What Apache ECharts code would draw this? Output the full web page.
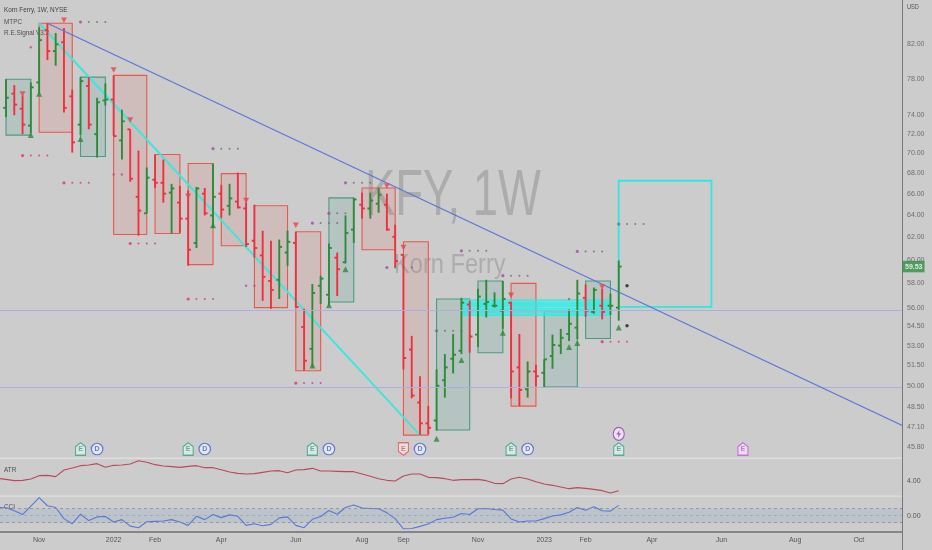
<!DOCTYPE html>
<html><head><meta charset="utf-8">
<style>html,body{margin:0;padding:0;background:#cccccc}#c{width:932px;height:550px}</style>
<script src="https://cdn.jsdelivr.net/npm/echarts@6/dist/echarts.min.js"></script>
</head><body><div id="c"></div>
<script>
// weekly bars: [open, high, low, close]
const bars = [
[74.9,78.05,73.9,76.0],[76.45,77.4,74.1,75.25],[74.8,76.25,72.1,73.1],[73.0,77.7,72.2,77.15],[77.7,84.15,76.45,82.6],
[83.8,84.65,80.25,81.3],[81.3,83.45,79.6,82.1],[82.35,84.05,74.4,74.9],[76.15,76.9,70.2,71.25],[73.1,78.3,72,77.85],
[77.3,78.3,72.6,73.1],[72.1,76,69.7,75.5],[75.7,77.6,75.15,75.8],[75.8,78.5,71.9,71.9],[71.45,74.7,69.5,73.45],
[72.6,72.6,67.3,67.6],[65.85,70.4,62.25,64.55],[64.3,68.7,64.3,67.7],[67.5,70,66.7,67.2],[67.2,69.5,65.3,66.15],
[66.25,67.1,62.45,66.65],[65.3,66.9,62.5,63.8],[63.8,66.45,59.6,61],[61.6,66.8,61.15,66.65],[66.15,66.7,64.1,64.3],
[64.1,69.1,62.95,65.85],[66.15,67,63.9,64.65],[65,67.1,64.1,65.7],[65.4,68.2,64.75,64.85],[64.75,65.3,61.25,61.5],
[61.8,65.1,60.3,61.15],[60.5,62.7,56.65,58.65],[58.3,61.8,56,57.55],[58.4,61.9,56.8,61.25],[60.75,62.7,59.6,61.7],
[61.6,62.6,56.1,56.15],[54.55,56,51.2,51.95],[52.85,58.05,51.45,57.3],[57.9,58.75,56.4,58.5],[57.15,61.55,56.25,61.15],
[60.3,60.75,57.05,59.3],[59.9,64.1,59.8,62.5],[62.8,65.75,61.6,65.6],[65.1,66.25,63.8,64.75],[64.75,66.25,63.8,65.5],
[65.2,66.7,64.35,66.05],[65.1,66.15,62.7,62.8],[62.15,63.25,59.45,60],[60.55,60.55,51.3,52.15],[52.8,53.85,49.2,49.4],
[48.9,50.8,46.65,47.45],[47.45,48.65,46.7,47.15],[47.65,51.3,46.95,50.1],[50.5,52.45,49.25,51.45],[52.1,54,51,52.4],
[52.7,56.9,52.45,56.5],[56.35,56.65,52.55,53.8],[53.95,57.65,53,57],[56.4,58.4,55.3,56.55],[56.25,57.35,56.1,56.25],
[55.85,58.3,54.4,56.8],[56.5,56.55,49.2,51.15],[51.45,54,48.65,49.8],[49.85,51.9,49.25,51.15],[51.15,51.65,50.05,50.8],
[51.05,52.05,50,52.05],[52.3,53.95,51.35,53.15],[53.1,54.4,52.45,53.7],[54,55.95,53.45,54.8],[54.5,58.4,53.6,57.25],
[56.9,58,55.35,55.85],[55.75,57.75,55.6,57.55],[56.25,57.65,55.15,55.75],[56.25,57.25,55.5,56.25],[56.1,60.05,55.05,59.53]
];
// boxes: [fromIndex, toIndex, topPrice, bottomPrice]
const redBoxes = [[4,8,84.65,72.3],[13,17,78.5,62.35],[18,21,70,62.45],[22,25,69.1,59.7],[26,29,68.1,61.35],[30,34,65,56.1],[35,38,62.6,51.2],[43,47,66.7,61],[48,51,61.7,46.65],[61,64,58.1,48.65]];
const greenBoxes = [[0,3,78.05,72],[9,12,78.3,69.8],[39,42,65.75,56.55],[52,56,56.8,47],[57,60,58.3,52.55],[65,69,55.85,50],[70,73,58.3,53.65]];
const targetBox = [74,85.2,67.4,56.15];
const bandRows = [56.7,56.5,56.35,56.2,56.0,55.85,55.7,55.5];
const bandSpan = [55,73];
const blueTrend = [[5,84.65],[108.25,47.3]];
const cyanTrend = [[4,84.65],[50,46.65]];
const hLines = [55.85,50];
const lastPrice = 59.53;
const downMarks = [[2,76.4],[7,85],[13,79.1],[15,73.6],[22,65.9],[29,65.5],[35,63.2],[46,66.9],[48,61.2],[61,57.1],[72,57.8]];
const upMarks = [[3,72],[4,76.45],[9,71.6],[25,63.2],[37,51.6],[39,56.3],[41,59.3],[52,46.4],[55,52],[60,54.1],[68,53],[69,53.3],[74,54.5]];
const pinkRows = [[2,69.9],[15,61.55],[7,67.2],[22,56.8],[35,50.3],[72,53.4]];
const purpleRows = [[9,84.8],[25,70.6],[41,67.2],[37,63.4],[39,64.3],[46,59.45],[55,60.9],[60,58.75],[69,60.85]];
const greyRows = [[52,54.25],[74,63.3]];
const partialDots = [[13,68],[14,68],[29,57.9],[30,57.9],[68,56.8],[3,81.75]];
const blackDots = [[75,57.9],[75,54.65]];
const earnings = [[9,'g'],[22,'g'],[37,'g'],[48,'r'],[61,'g'],[74,'g'],[89,'p']];
const dividends = [11,24,39,50,63];
const splits = [74];
const atr = [4.14,4.08,4.0,4.02,4.10,4.30,4.32,4.24,4.64,4.76,4.90,4.94,5.02,4.80,4.92,4.94,5.0,5.2,5.1,4.96,4.88,4.84,4.8,4.86,4.9,4.78,4.78,4.66,4.52,4.44,4.4,4.42,4.5,4.58,4.6,4.48,4.64,4.66,4.74,4.58,4.58,4.56,4.54,4.54,4.4,4.26,4.12,4.02,3.98,4.28,4.4,4.4,4.2,4.18,4.12,4.02,4.06,4.06,4.08,4.0,3.84,3.82,4.1,4.2,4.1,3.94,3.8,3.72,3.62,3.52,3.58,3.54,3.48,3.4,3.26,3.4];
const cci = [114,110,67,14,133,252,138,114,-43,-114,19,-71,-19,-14,-90,-57,-148,-171,-86,-81,-76,-57,-90,-138,-10,-57,14,-29,10,-10,-138,-114,-143,-124,-33,-19,-138,-171,-52,-14,71,19,114,148,105,100,95,38,-43,-186,-181,-152,-119,-57,-38,-24,29,14,95,100,86,76,-48,-90,-76,-76,-43,-5,10,48,114,76,124,67,62,143];
const priceTicks = [82,78,74,72,70,68,66,64,62,60,58,56,54.5,53,51.5,50,48.5,47.1,45.8];
const timeTicks = {4:'Nov',13:'2022',18:'Feb',26:'Apr',35:'Jun',43:'Aug',48:'Sep',57:'Nov',65:'2023',70:'Feb',78:'Apr',86.4:'Jun',95.3:'Aug',103:'Oct'};

const RED='#f0303f', GREEN='#2f8a3a', TXT='#555555', FONT='"Liberation Sans",Arial,sans-serif';
const xMin=-0.725, xMax=108.21;
const xAxisBase={type:'value',min:xMin,max:xMax,splitLine:{show:false},axisTick:{show:false},axisLine:{show:false},axisLabel:{show:false}};
const rowsDots=(rows,n)=>rows.flatMap(r=>Array.from({length:n},(_,k)=>[r[0]+k,r[1],k]));
const dotStyle=c=>({symbol:'circle',symbolSize:(v)=>v[2]===0?3.2:2,itemStyle:{color:c}});

function boxSeries(rows,stroke,fill){
  return {type:'custom',xAxisIndex:0,yAxisIndex:0,z:2,data:rows,clip:true,encode:{x:[0,1],y:[2,3]},silent:true,
    renderItem(p,api){
      const a=api.coord([api.value(0),api.value(2)]),b=api.coord([api.value(1),api.value(3)]);
      return {type:'rect',shape:{x:a[0],y:a[1],width:b[0]-a[0],height:b[1]-a[1]},style:{fill:fill,stroke:stroke,lineWidth:1.1}};
    }};
}
function tag(rev){return rev?'path://M0 0L10 0L10 9L5 13L0 9Z':'path://M5 0L10 4L10 13L0 13L0 4Z';}
const tagCol={g:'#2fa58a',r:'#f0505a',p:'#d050e8'};

const option={
  animation:false,backgroundColor:'#cccccc',textStyle:{fontFamily:FONT},
  grid:[
    {left:0,right:30,top:0,height:458},
    {left:0,right:30,top:459,height:36},
    {left:0,right:30,top:497,height:34.5}
  ],
  xAxis:[
    Object.assign({gridIndex:0},xAxisBase),
    Object.assign({gridIndex:1},xAxisBase),
    Object.assign({gridIndex:2},xAxisBase,{
      axisLabel:{show:true,color:TXT,fontSize:7,margin:5,fontFamily:FONT,
        customValues:Object.keys(timeTicks).map(Number),
        formatter:v=>timeTicks[v]||''}})
  ],
  yAxis:[
    {gridIndex:0,type:'log',logBase:10,min:45.13,max:87.54,position:'right',splitLine:{show:false},
      axisLine:{show:false},axisTick:{show:false},axisLabel:{show:false}},
    {gridIndex:1,type:'value',min:3.14,max:5.3,position:'right',splitLine:{show:false},axisLine:{show:false},axisTick:{show:false},
      axisLabel:{color:TXT,fontSize:7,margin:5,customValues:[4],formatter:v=>v.toFixed(2),fontFamily:FONT}},
    {gridIndex:2,type:'value',min:-224,max:261,position:'right',splitLine:{show:false},axisLine:{show:false},axisTick:{show:false},
      axisLabel:{color:TXT,fontSize:7,margin:5,customValues:[0],formatter:v=>v.toFixed(2),fontFamily:FONT}}
  ],
  graphic:[
    {type:'text',x:365,y:165,scaleX:0.71,z:0,style:{text:'KFY, 1W',fontSize:64,fontFamily:FONT,fill:'rgba(120,120,120,0.38)'}},
    {type:'text',x:394,y:252,scaleX:0.875,z:0,style:{text:'Korn Ferry',fontSize:27,fontFamily:FONT,fill:'rgba(120,120,120,0.38)'}},
    {type:'text',x:4,y:6,scaleX:0.8,style:{text:'Korn Ferry, 1W, NYSE',fontSize:8,fontFamily:FONT,fill:'#3f3f3f'}},
    {type:'text',x:4,y:18,scaleX:0.8,style:{text:'MTPC',fontSize:8,fontFamily:FONT,fill:'#4f4f4f'}},
    {type:'text',x:4,y:29,scaleX:0.8,style:{text:'R.E.Signal V3.2',fontSize:8,fontFamily:FONT,fill:'#4f4f4f'}},
    {type:'text',x:4,y:466,scaleX:0.8,style:{text:'ATR',fontSize:8,fontFamily:FONT,fill:'#4f4f4f'}},
    {type:'text',x:4,y:503,scaleX:0.8,style:{text:'CCI',fontSize:8,fontFamily:FONT,fill:'#4f4f4f'}},
    {type:'text',x:907,y:4,scaleX:0.8,style:{text:'USD',fontSize:7,fontFamily:FONT,fill:TXT}},
    {type:'rect',left:0,top:457.5,z:1,shape:{width:902,height:1.5},style:{fill:'#dedede'}},
    {type:'rect',left:0,top:495.5,z:1,shape:{width:902,height:1.2},style:{fill:'#dedede'}},
    {type:'rect',left:0,top:531,z:1,shape:{width:902,height:2},style:{fill:'#858585'}},
    {type:'rect',left:902,top:0,z:1,shape:{width:1,height:550},style:{fill:'#787878'}}
  ],
  series:[
    {type:'line',xAxisIndex:0,yAxisIndex:0,data:[],symbol:'none',z:1,
      markLine:{silent:true,symbol:'none',label:{show:false},lineStyle:{color:'#aeaedc',width:1,type:'solid'},data:hLines.map(v=>({yAxis:v}))}},
    {type:'scatter',xAxisIndex:0,yAxisIndex:0,symbolSize:0,z:6,clip:false,silent:true,
      data:priceTicks.map(v=>[xMax,v]),
      label:{show:true,position:'right',distance:5,offset:[0,-1.2],color:TXT,fontSize:7,fontFamily:FONT,formatter:p=>p.value[1].toFixed(2)}},
    boxSeries(redBoxes,'#e8584e','rgba(235,70,60,0.11)'),
    boxSeries(greenBoxes,'#4c9a84','rgba(40,150,120,0.14)'),
    {type:'custom',xAxisIndex:0,yAxisIndex:0,z:3,data:bandRows.map(v=>[bandSpan[0],bandSpan[1],v]),silent:true,
      renderItem(p,api){
        const a=api.coord([api.value(0),api.value(2)]),b=api.coord([api.value(1),api.value(2)]);
        return {type:'line',shape:{x1:a[0],y1:a[1],x2:b[0],y2:b[1]},style:{stroke:'rgba(20,245,235,0.75)',lineWidth:2}};
      }},
    {type:'custom',xAxisIndex:0,yAxisIndex:0,z:3,data:[targetBox],silent:true,
      renderItem(p,api){
        const a=api.coord([api.value(0),api.value(2)]),b=api.coord([api.value(1),api.value(3)]);
        return {type:'rect',shape:{x:a[0],y:a[1],width:b[0]-a[0],height:b[1]-a[1]},style:{fill:'none',stroke:'#35e6e0',lineWidth:1.8}};
      }},
    {type:'line',xAxisIndex:0,yAxisIndex:0,data:cyanTrend,symbol:'none',z:3,lineStyle:{color:'#3fe6dc',width:2},silent:true},
    {type:'line',xAxisIndex:0,yAxisIndex:0,data:blueTrend,symbol:'none',z:5,lineStyle:{color:'#5a74d8',width:1.1},silent:true},
    {type:'custom',xAxisIndex:0,yAxisIndex:0,z:4,silent:true,
      data:bars.map((b,i)=>[i,b[0],b[1],b[2],b[3]]),
      encode:{x:0,y:[1,2,3,4]},
      renderItem(p,api){
        const i=api.value(0),o=api.coord([i,api.value(1)]),h=api.coord([i,api.value(2)]),l=api.coord([i,api.value(3)]),c=api.coord([i,api.value(4)]);
        const col=api.value(4)>=api.value(1)?GREEN:RED;
        const st={stroke:col,lineWidth:1.9,fill:'none'};
        return {type:'group',children:[
          {type:'line',shape:{x1:h[0],y1:h[1],x2:l[0],y2:l[1]},style:st},
          {type:'line',shape:{x1:o[0]-2.8,y1:o[1],x2:o[0],y2:o[1]},style:st},
          {type:'line',shape:{x1:c[0],y1:c[1],x2:c[0]+2.8,y2:c[1]},style:st}
        ]};
      }},
    {type:'scatter',xAxisIndex:0,yAxisIndex:0,z:5,silent:true,data:downMarks,symbol:'triangle',symbolRotate:180,symbolSize:[6,5.5],itemStyle:{color:'#f0404c'}},
    {type:'scatter',xAxisIndex:0,yAxisIndex:0,z:5,silent:true,data:upMarks,symbol:'triangle',symbolSize:[6,6],itemStyle:{color:'#2f8a3a'}},
    Object.assign({type:'scatter',xAxisIndex:0,yAxisIndex:0,z:5,silent:true,data:rowsDots(pinkRows,4)},dotStyle('#e0307a')),
    Object.assign({type:'scatter',xAxisIndex:0,yAxisIndex:0,z:5,silent:true,data:rowsDots(purpleRows,4).filter(d=>d[2]===0)},dotStyle('#a84aa0')),
    Object.assign({type:'scatter',xAxisIndex:0,yAxisIndex:0,z:5,silent:true,data:rowsDots(purpleRows.concat(greyRows),4).filter(d=>d[2]!==0)},dotStyle('#6f6a6a')),
    Object.assign({type:'scatter',xAxisIndex:0,yAxisIndex:0,z:5,silent:true,data:rowsDots(greyRows,1)},dotStyle('#6a6a8a')),
    {type:'scatter',xAxisIndex:0,yAxisIndex:0,z:5,silent:true,data:partialDots,symbolSize:2.5,itemStyle:{color:'#c05080'}},
    {type:'scatter',xAxisIndex:0,yAxisIndex:0,z:5,silent:true,data:blackDots,symbolSize:3.5,itemStyle:{color:'#222'}},
    {type:'scatter',xAxisIndex:0,yAxisIndex:0,z:7,clip:false,silent:true,data:[[xMax,lastPrice]],
      symbol:'rect',symbolSize:0,
      label:{show:true,position:'right',distance:0.5,backgroundColor:'#2f8f45',color:'#fff',fontSize:7,fontWeight:'bold',
        padding:[2.5,2,2,2.5],formatter:()=>lastPrice.toFixed(2),fontFamily:FONT}},
    {type:'scatter',xAxisIndex:0,yAxisIndex:0,z:8,silent:true,
      data:earnings.map(e=>({value:[e[0],45.72],symbol:tag(e[1]==='r'),
        itemStyle:{color:'#e9e9e9',borderColor:tagCol[e[1]],borderWidth:1.2},
        label:{color:tagCol[e[1]]}})),
      symbolSize:[10,12.5],
      label:{show:true,position:'inside',formatter:'E',fontSize:7,fontWeight:'bold',fontFamily:FONT}},
    {type:'scatter',xAxisIndex:0,yAxisIndex:0,z:8,silent:true,
      data:dividends.map(d=>[d,45.72]),symbol:'circle',symbolSize:11.5,
      itemStyle:{color:'#ececf4',borderColor:'#3f62e0',borderWidth:1.2},
      label:{show:true,position:'inside',formatter:'D',color:'#3f62e0',fontSize:7,fontWeight:'bold',fontFamily:FONT}},
    {type:'scatter',xAxisIndex:0,yAxisIndex:0,z:8,silent:true,
      data:splits.map(d=>[d,46.73]),symbol:'circle',symbolSize:[11,13],
      itemStyle:{color:'#ececec',borderColor:'#a03cc0',borderWidth:1.2}},
    {type:'scatter',xAxisIndex:0,yAxisIndex:0,z:9,silent:true,
      data:splits.map(d=>[d,46.73]),symbol:'path://M6 0L0 7L4 7L3 12L9 5L5 5Z',symbolSize:[5,8],itemStyle:{color:'#a03cc0'}},
    {type:'line',xAxisIndex:1,yAxisIndex:1,data:atr.map((v,i)=>[i-1,v]),symbol:'none',lineStyle:{color:'#b84a5a',width:1.1},silent:true},
    {type:'line',xAxisIndex:2,yAxisIndex:2,data:cci.map((v,i)=>[i-1,v]),symbol:'none',z:4,lineStyle:{color:'#5a78d8',width:1.1},silent:true,
      markArea:{silent:true,itemStyle:{color:'rgba(90,140,200,0.13)'},data:[[{yAxis:100},{yAxis:-100}]]},
      markLine:{silent:true,symbol:'none',label:{show:false},lineStyle:{color:'#8a8f98',width:0.8,type:[3,3]},data:[{yAxis:100},{yAxis:-100}]}},
    {type:'line',xAxisIndex:2,yAxisIndex:2,data:[],symbol:'none',
      markLine:{silent:true,symbol:'none',label:{show:false},lineStyle:{color:'rgba(120,120,130,0.4)',width:0.8,type:[3,3]},data:[{yAxis:0}]}}
  ]
};
echarts.init(document.getElementById('c'),null,{renderer:'canvas'}).setOption(option);
</script></body></html>
